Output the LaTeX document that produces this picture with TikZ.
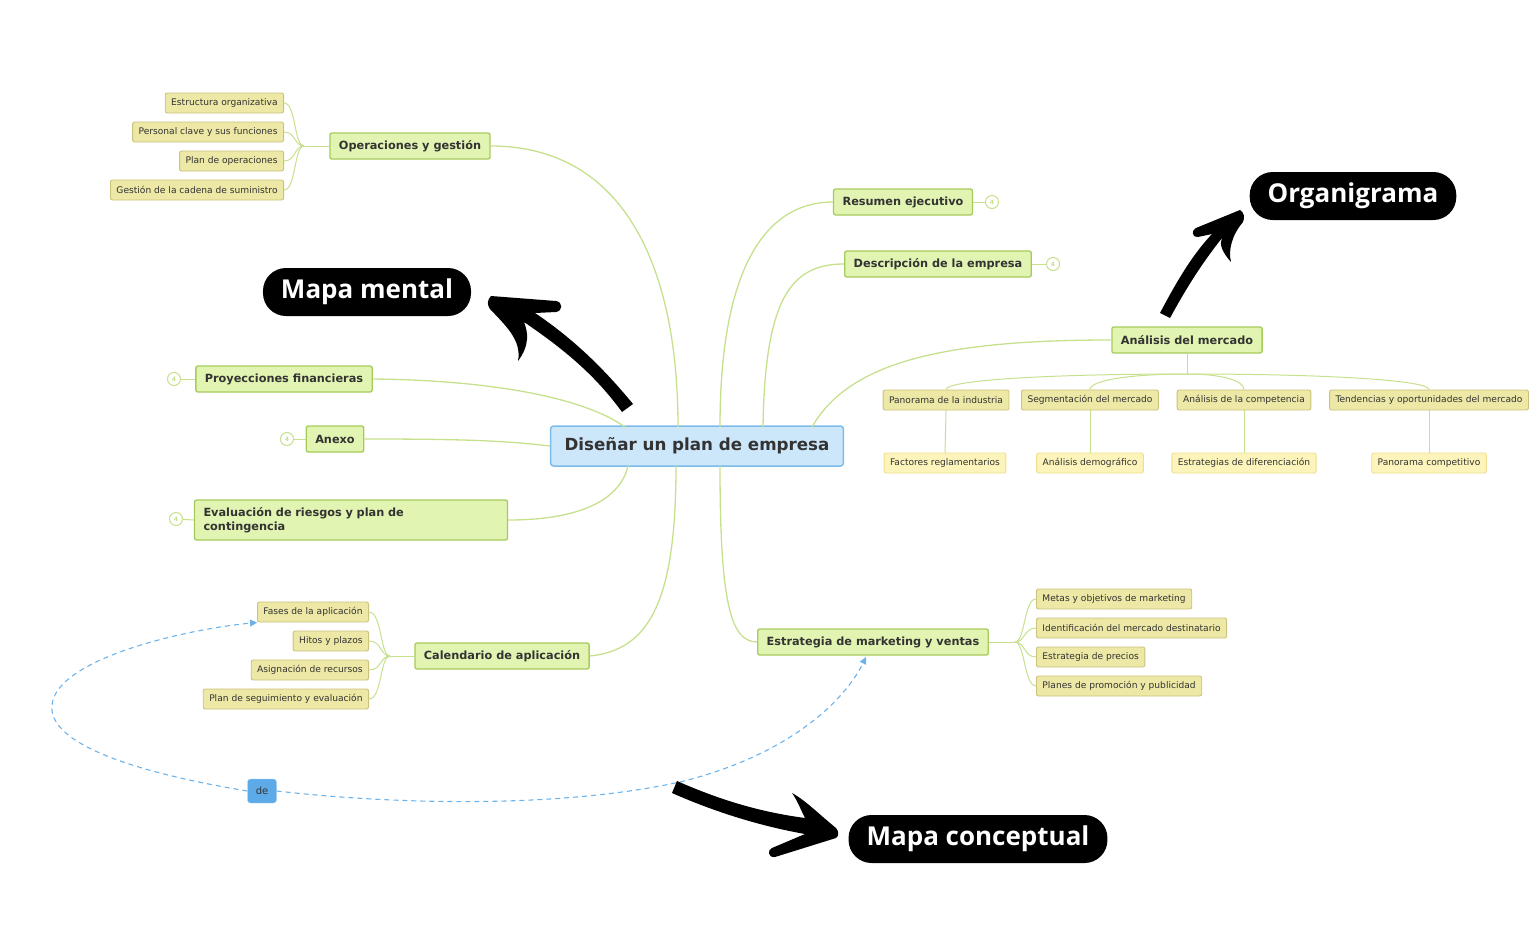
\documentclass[tikz,border=0pt]{standalone}
\usepackage{fontspec}
\setmainfont{DejaVu Sans}
\newfontfamily\pillfont{Open Sans}
\usetikzlibrary{arrows.meta, calc}
\definecolor{rootfill}{HTML}{CDE7FA}
\definecolor{rootline}{HTML}{7DBBEA}
\definecolor{onefill}{HTML}{E1F4B1}
\definecolor{oneline}{HTML}{A6CB5B}
\definecolor{twofill}{HTML}{EDE8A5}
\definecolor{twoline}{HTML}{CBC27E}
\definecolor{threefill}{HTML}{FCF4BA}
\definecolor{threeline}{HTML}{EEDF8E}
\definecolor{branch}{HTML}{C6E08E}
\definecolor{relblue}{HTML}{6CB3EC}
\definecolor{defill}{HTML}{5DAAE8}
\definecolor{txt}{HTML}{333333}

\begin{document}
\begin{tikzpicture}[x=1pt, y=-1pt,
    root/.style={draw=rootline, fill=rootfill, line width=1.5pt, rounded corners=3pt, text=txt,
        minimum height=40pt, inner xsep=14pt, font=\bfseries\fontsize{16.7}{19}\selectfont},
    topic/.style={draw=oneline, fill=onefill, line width=1.3pt, rounded corners=2pt, text=txt,
        minimum height=26pt, inner xsep=9pt, font=\bfseries\fontsize{11.3}{13}\selectfont},
    sub/.style={draw=twoline, fill=twofill, line width=0.9pt, rounded corners=2pt, text=txt,
        minimum height=20pt, inner xsep=6pt, font=\fontsize{9.1}{10}\selectfont},
    subsub/.style={draw=threeline, fill=threefill, line width=0.9pt, rounded corners=2pt, text=txt,
        minimum height=20pt, inner xsep=6pt, font=\fontsize{9.1}{10}\selectfont},
    knob/.style={circle, draw=branch, fill=white, line width=1pt, minimum size=13pt, inner sep=0pt,
        text=branch, font=\bfseries\fontsize{6}{7}\selectfont},
    link/.style={draw=branch, line width=1.3pt},
    rel/.style={draw=relblue, line width=1.1pt, dash pattern=on 5pt off 4pt, -{Triangle[length=7pt, width=7pt]}},
    pill/.style={fill=black, text=white, rounded corners=23pt, minimum height=48pt, inner xsep=18pt,
        font=\pillfont\bfseries\fontsize{26}{30}\selectfont}]

    \useasboundingbox (0,0) rectangle (1536,950);

    % root and main topics
    \node[root] (plan) at (697,446) {Diseñar un plan de empresa};

    \node[topic] (ops) at (410,146) {Operaciones y gestión};
    \node[topic] (res) at (903,202) {Resumen ejecutivo};
    \node[topic] (desc) at (938,264) {Descripción de la empresa};
    \node[topic] (mkt) at (1187,340) {Análisis del mercado};
    \node[topic] (fin) at (284,379) {Proyecciones financieras};
    \node[topic] (anx) at (335,439) {Anexo};
    \node[topic, text width=295pt, align=left, minimum height=40pt,
        font=\bfseries\fontsize{11.3}{14}\selectfont] (risk) at (351,520)
        {Evaluación de riesgos y plan de\\contingencia};
    \node[topic] (cal) at (502,656) {Calendario de aplicación};
    \node[topic] (sales) at (873,642) {Estrategia de marketing y ventas};

    % collapsed knobs
    \node[knob] (kres) at (992,202) {4};
    \node[knob] (kdesc) at (1053,264) {4};
    \node[knob] (kfin) at (174,379) {4};
    \node[knob] (kanx) at (287,439) {4};
    \node[knob] (krisk) at (176,519) {4};
    \draw[link, line width=1pt] (res.east) -- (kres);
    \draw[link, line width=1pt] (desc.east) -- (kdesc);
    \draw[link, line width=1pt] (fin.west) -- (kfin);
    \draw[link, line width=1pt] (anx.west) -- (kanx);
    \draw[link, line width=1pt] (risk.west) -- (krisk);

    % branches from the root
    \draw[link] (ops.east) .. controls (620,146) and (678,260) .. (678,427);
    \draw[link] (720,427) .. controls (720,260) and (770,202) .. (res.west);
    \draw[link] (763,427) .. controls (765,300) and (790,264) .. (desc.west);
    \draw[link] (812,427) .. controls (850,360) and (950,340) .. (mkt.west);
    \draw[link] (fin.east) .. controls (480,380) and (580,395) .. (625,427);
    \draw[link] (anx.east) .. controls (450,439) and (500,440) .. (plan.west);
    \draw[link] (risk.east) .. controls (580,520) and (620,500) .. (628,466);
    \draw[link] (cal.east) .. controls (650,650) and (676,600) .. (676,466);
    \draw[link] (720,466) .. controls (720,600) and (730,642) .. (sales.west);

    % operaciones
    \node[sub, anchor=east] (ops1) at (284,103) {Estructura organizativa};
    \node[sub, anchor=east] (ops2) at (284,132) {Personal clave y sus funciones};
    \node[sub, anchor=east] (ops3) at (284,161) {Plan de operaciones};
    \node[sub, anchor=east] (ops4) at (284,190) {Gestión de la cadena de suministro};
    \coordinate (opsfork) at (304,146);
    \draw[link, line width=1pt] (ops.west) -- (opsfork);
    \foreach \n in {ops1,ops2,ops3,ops4}
        \draw[link, line width=1pt] (opsfork) .. controls (294,146) and (296,0|-\n.east) .. (\n.east);

    % calendario
    \node[sub, anchor=east] (cal1) at (369,612) {Fases de la aplicación};
    \node[sub, anchor=east] (cal2) at (369,641) {Hitos y plazos};
    \node[sub, anchor=east] (cal3) at (369,670) {Asignación de recursos};
    \node[sub, anchor=east] (cal4) at (369,699) {Plan de seguimiento y evaluación};
    \coordinate (calfork) at (390,656);
    \draw[link, line width=1pt] (cal.west) -- (calfork);
    \foreach \n in {cal1,cal2,cal3,cal4}
        \draw[link, line width=1pt] (calfork) .. controls (380,656) and (382,0|-\n.east) .. (\n.east);

    % marketing y ventas
    \node[sub, anchor=west] (sal1) at (1036,599) {Metas y objetivos de marketing};
    \node[sub, anchor=west] (sal2) at (1036,628) {Identificación del mercado destinatario};
    \node[sub, anchor=west] (sal3) at (1036,657) {Estrategia de precios};
    \node[sub, anchor=west] (sal4) at (1036,686) {Planes de promoción y publicidad};
    \coordinate (salfork) at (1015,642);
    \draw[link, line width=1pt] (sales.east) -- (salfork);
    \foreach \n in {sal1,sal2,sal3,sal4}
        \draw[link, line width=1pt] (salfork) .. controls (1025,642) and (1024,0|-\n.west) .. (\n.west);

    % analisis del mercado
    \node[sub] (mk1) at (946,400) {Panorama de la industria};
    \node[sub] (mk2) at (1090,400) {Segmentación del mercado};
    \node[sub] (mk3) at (1244,400) {Análisis de la competencia};
    \node[sub] (mk4) at (1429,400) {Tendencias y oportunidades del mercado};
    \node[subsub] (mk1a) at (945,463) {Factores reglamentarios};
    \node[subsub] (mk2a) at (1090,463) {Análisis demográfico};
    \node[subsub] (mk3a) at (1244,463) {Estrategias de diferenciación};
    \node[subsub] (mk4a) at (1429,463) {Panorama competitivo};
    \coordinate (mkfork) at (1187,374);
    \draw[link, line width=1pt] (mkt.south) -- (mkfork);
    \foreach \n in {mk1,mk2,mk3,mk4}
        \draw[link, line width=1pt] (mkfork) .. controls ($(mkfork)!0.6!(\n.north|-mkfork)$) and ($(\n.north)+(0,-9)$) .. (\n.north);
    \foreach \n in {mk1,mk2,mk3,mk4}
        \draw[link, line width=1pt] (\n.south) -- (\n a.north);

    % relation
    \node[draw=relblue!60, fill=defill, rounded corners=3pt, minimum width=29pt, minimum height=24pt,
        inner sep=0pt, text=txt, font=\fontsize{10}{12}\selectfont] (de) at (262,791) {de};
    \draw[rel] (de.west) .. controls (120,770) and (48,740) .. (52,705)
        .. controls (56,660) and (180,630) .. (cal1.south west);
    \draw[rel] (de.east) .. controls (400,805) and (560,808) .. (680,782)
        .. controls (790,755) and (845,700) .. (866,657);

    % labels
    \node[pill] (mental) at (367,292) {Mapa mental};
    \node[pill] (orga) at (1353,196) {Organigrama};
    \node[pill] (concept) at (978,839) {Mapa conceptual};

    % hand drawn arrows
    \fill (633,404) .. controls (605,370) and (575,340) .. (535,313) -- (556,312)
        .. controls (563,311) and (563,302) .. (556,301) -- (491,296)
        .. controls (487,300) and (487,305) .. (490,309)
        .. controls (505,325) and (522,340) .. (518,361)
        .. controls (530,345) and (528,332) .. (524,322)
        .. controls (565,350) and (595,375) .. (622,412) -- cycle;
    \fill (1160,313) .. controls (1180,275) and (1195,252) .. (1212,234) -- (1198,237)
        .. controls (1192,238) and (1191,230) .. (1196,228) -- (1240,210)
        .. controls (1244,212) and (1245,218) .. (1243,222)
        .. controls (1232,235) and (1228,250) .. (1231,262)
        .. controls (1222,252) and (1219,244) .. (1222,238)
        .. controls (1203,262) and (1188,285) .. (1170,318) -- cycle;
    \fill (677,781) .. controls (720,800) and (760,812) .. (805,818)
        .. controls (800,808) and (797,800) .. (792,793)
        .. controls (805,800) and (820,815) .. (836,828)
        .. controls (839,831) and (839,836) .. (836,838) -- (775,857)
        .. controls (768,858) and (767,850) .. (772,848)
        -- (805,834) .. controls (760,826) and (715,812) .. (672,793) -- cycle;
\end{tikzpicture}
\end{document}
